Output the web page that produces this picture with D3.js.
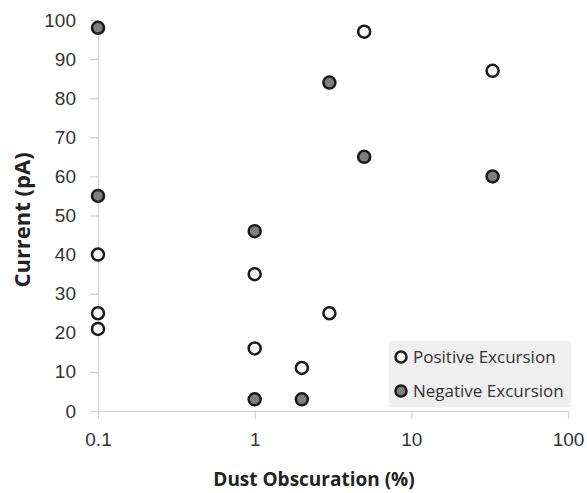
<!DOCTYPE html>
<html>
<head>
<meta charset="utf-8">
<script src="https://cdn.jsdelivr.net/npm/d3@7"></script>
<style>
  body { margin: 0; background: #fff; }
  svg { font-family: "Open Sans", sans-serif; }
</style>
</head>
<body>
<svg id="chart" width="587" height="493"></svg>
<script>
// data
var posX = [0.1, 0.1, 0.1, 1, 1, 2, 3, 5, 33];
var posY = [40, 25, 21, 35, 16, 11, 25, 97, 87];
var negX = [0.1, 0.1, 1, 1, 2, 3, 5, 33];
var negY = [98, 55, 46, 3, 3, 84, 65, 60];
var xTicks = [0.1, 1, 10, 100];
var yTicks = [0, 10, 20, 30, 40, 50, 60, 70, 80, 90, 100];
var seriesNames = ["Positive Excursion", "Negative Excursion"];

var margin = {top: 20, right: 19, bottom: 82, left: 98};
var width = 587, height = 493;
var w = width - margin.left - margin.right;
var h = height - margin.top - margin.bottom;

var svg = d3.select("#chart");
var chart = svg.append("g")
    .attr("transform", "translate(" + margin.left + "," + margin.top + ")");

var x = d3.scaleLog().domain([0.1, 100]).range([0, w]);
var y = d3.scaleLinear().domain([0, 100]).range([h, 0]);

var xAxis = d3.axisBottom(x)
    .tickValues(xTicks)
    .tickSize(8)
    .tickPadding(14)
    .tickFormat(function(d) { return d < 1 ? d3.format(".1f")(d) : d3.format("d")(d); });

var yAxis = d3.axisLeft(y)
    .tickValues(yTicks)
    .tickSize(8)
    .tickPadding(14);

chart.append("g")
    .attr("class", "axis")
    .attr("transform", "translate(0," + h + ")")
    .call(xAxis);

chart.append("g")
    .attr("class", "axis")
    .call(yAxis);

chart.selectAll(".axis .domain").attr("stroke", "#d0d0d0").attr("stroke-width", 1.2);
chart.selectAll(".axis .tick line").attr("stroke", "#d0d0d0").attr("stroke-width", 1.2);
chart.selectAll(".axis text")
    .attr("fill", "#333")
    .style("font-size", "19px");

// axis titles
svg.append("text")
    .attr("transform", "translate(30," + 220 + ") rotate(-90)")
    .attr("text-anchor", "middle")
    .style("font-size", "22px")
    .style("font-weight", "bold")
    .attr("fill", "#222")
    .text("Current (pA)");

svg.append("text")
    .attr("x", 314)
    .attr("y", 486)
    .attr("text-anchor", "middle")
    .style("font-size", "19px")
    .style("font-weight", "bold")
    .attr("fill", "#222")
    .text("Dust Obscuration (%)");

// legend box
var legend = svg.append("g").attr("transform", "translate(389,341)");
legend.append("rect")
    .attr("width", 182)
    .attr("height", 66)
    .attr("fill", "#efefef");

var fills = ["#f5f5f5", "#7f7f7f"];
seriesNames.forEach(function(name, i) {
  legend.append("circle")
    .attr("cx", 12)
    .attr("cy", 16 + i * 34)
    .attr("r", 5.5)
    .attr("fill", fills[i])
    .attr("stroke", "#1a1a1a")
    .attr("stroke-width", 2.5);
  legend.append("text")
    .attr("x", 24)
    .attr("y", 16 + i * 34)
    .attr("dy", "0.35em")
    .style("font-size", "17px")
    .attr("fill", "#333")
    .text(name);
});

// points
var pos = posX.map(function(d, i) { return {x: d, y: posY[i]}; });
var neg = negX.map(function(d, i) { return {x: d, y: negY[i]}; });

chart.selectAll(".pos")
    .data(pos)
    .enter().append("circle")
    .attr("class", "pos")
    .attr("cx", function(d) { return x(d.x); })
    .attr("cy", function(d) { return y(d.y); })
    .attr("r", 6)
    .attr("fill", fills[0])
    .attr("stroke", "#1a1a1a")
    .attr("stroke-width", 2.5);

chart.selectAll(".neg")
    .data(neg)
    .enter().append("circle")
    .attr("class", "neg")
    .attr("cx", function(d) { return x(d.x); })
    .attr("cy", function(d) { return y(d.y); })
    .attr("r", 6)
    .attr("fill", fills[1])
    .attr("stroke", "#1a1a1a")
    .attr("stroke-width", 2.5);
</script>
</body>
</html>
